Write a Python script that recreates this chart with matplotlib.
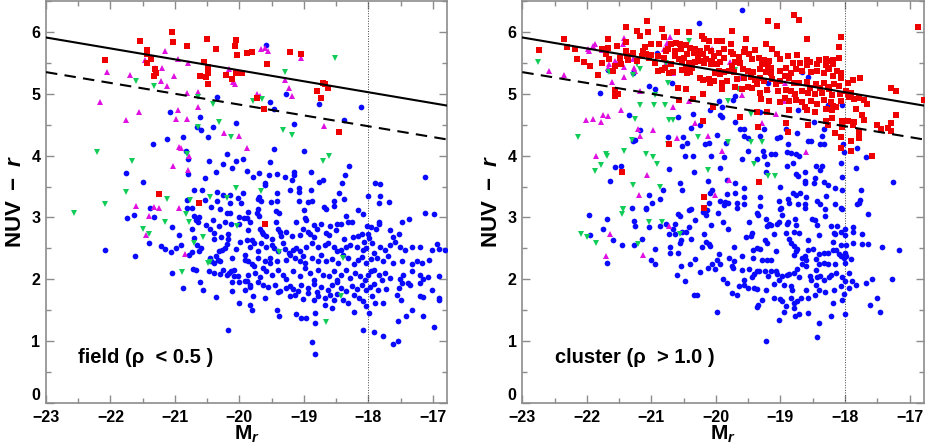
import numpy as np
import matplotlib
matplotlib.use("Agg")
import matplotlib.pyplot as plt
from matplotlib.ticker import MultipleLocator, FixedLocator

plt.rcParams['font.family'] = ['Liberation Sans', 'DejaVu Sans']
plt.rcParams['font.weight'] = 'bold'
plt.rcParams['mathtext.fontset'] = 'custom'
plt.rcParams['mathtext.rm'] = 'Liberation Sans:bold'
plt.rcParams['mathtext.it'] = 'Liberation Sans:bold:italic'
plt.rcParams['mathtext.bf'] = 'Liberation Sans:bold'

# ---------------- data: (M_r, NUV-r) ----------------
field_red = np.array([
    (-21.05,6.00),(-21.54,5.85),(-21.03,5.84),(-20.51,5.89),(-20.06,5.87),(-20.07,5.78),(-20.82,5.77),
    (-20.36,5.73),(-21.44,5.71),(-21.43,5.65),(-20.04,5.63),(-19.89,5.66),(-21.37,5.57),(-21.44,5.50),
    (-22.08,5.54),(-20.55,5.52),(-20.48,5.43),(-20.48,5.39),(-20.49,5.33),(-20.61,5.28),(-20.52,5.27),
    (-21.31,5.40),(-21.29,5.34),(-21.33,5.29),(-20.48,5.16),(-20.21,5.30),(-20.12,5.24),(-20.05,5.34),
    (-19.96,5.33),(-21.25,3.38),(-20.63,3.24),(-19.81,5.68),(-19.21,5.68),(-19.04,5.65),(-19.57,5.48),
    (-18.71,5.18),(-18.68,5.15),(-18.62,5.10),(-18.79,5.04),(-18.73,4.93),(-19.72,4.93),(-19.62,4.75),
    (-18.46,4.38),(-19.61,2.90)])

field_magenta = np.array([
    (-21.15,5.69),(-21.46,5.55),(-20.95,5.57),(-20.80,5.49),(-22.05,5.35),(-21.70,5.30),(-21.31,5.42),
    (-21.20,5.42),(-21.02,5.28),(-21.21,5.21),(-21.12,5.12),(-20.82,5.02),(-20.65,5.03),(-20.16,5.40),
    (-20.10,5.19),(-20.07,5.16),(-22.16,4.86),(-21.76,4.58),(-21.56,4.70),(-20.95,4.74),(-20.98,4.59),
    (-20.82,4.59),(-20.65,4.78),(-20.24,4.37),(-20.01,4.32),(-19.89,4.13),(-20.94,4.14),(-20.90,4.12),
    (-20.78,4.00),(-21.03,3.83),(-20.80,3.76),(-21.60,3.18),(-21.33,3.17),(-21.24,3.15),(-20.93,3.16),
    (-19.67,5.72),(-19.61,5.74),(-19.55,5.69),(-19.04,5.58),(-19.29,5.23),(-19.23,5.09),(-19.18,4.96),
    (-19.72,5.00),(-19.68,4.97),(-18.69,4.48),(-21.41,3.02),(-21.45,2.71),(-20.85,2.41)])

field_green = np.array([
    (-21.61,5.21),(-21.33,5.13),(-20.64,4.94),(-20.41,4.83),(-20.32,4.55),(-20.64,4.47),(-20.13,4.30),
    (-22.21,4.06),(-21.67,3.91),(-20.81,4.03),(-21.76,3.41),(-20.06,3.48),(-22.08,3.22),(-21.12,3.30),
    (-20.76,3.28),(-20.45,3.33),(-20.19,3.31),(-18.52,5.58),(-19.29,5.35),(-19.79,4.88),(-19.65,4.91),
    (-19.33,4.41),(-19.18,4.34),(-18.61,3.99),(-18.71,3.91),(-19.66,3.43),(-22.57,3.08),(-21.50,2.82),
    (-21.41,2.73),(-21.16,2.93),(-20.83,3.05),(-20.78,2.92),(-20.70,2.58),(-20.56,2.69),(-20.49,2.26),
    (-20.45,2.28),(-20.89,2.12),(-20.03,2.86),(-19.39,2.44),(-18.40,2.34),(-18.43,1.73),(-18.66,1.31)])

field_blue = np.array([
    (-20.35,4.95),(-21.08,4.70),(-20.61,4.63),(-20.66,4.47),(-20.60,4.42),(-20.41,4.46),(-20.06,4.53),
    (-20.49,4.30),(-20.87,4.30),(-21.13,4.27),(-21.34,4.19),(-20.83,4.08),(-20.80,3.95),(-20.19,4.03),
    (-20.47,3.91),(-20.25,3.87),(-20.06,3.92),(-19.95,3.95),(-20.12,3.80),(-20.36,3.74),(-20.80,3.71),
    (-21.76,3.72),(-21.50,3.57),(-20.54,3.64),(-20.71,3.45),(-20.58,3.44),(-20.35,3.41),(-20.25,3.37),
    (-20.15,3.37),(-19.95,3.39),(-20.02,3.31),(-20.35,3.26),(-20.15,3.24),(-19.98,3.23),(-20.54,3.29),
    (-20.82,3.28),(-21.38,3.15),(-20.82,3.15),(-20.73,3.15),(-20.44,3.17),(-20.30,3.13),
    (-19.58,5.79),(-19.27,5.00),(-19.53,4.87),(-19.46,4.76),(-18.76,4.83),(-18.11,4.78),(-18.37,4.57),
    (-19.15,4.51),(-19.46,4.11),(-19.00,4.08),(-19.52,3.90),(-18.30,3.83),(-19.88,3.75),(-19.69,3.72),
    (-19.79,3.65),(-19.54,3.68),(-19.41,3.71),(-19.29,3.66),(-19.15,3.74),(-19.15,3.68),(-18.89,3.73),
    (-18.36,3.68),(-19.18,3.60),(-18.70,3.61),(-18.76,3.58),(-19.60,3.56),(-19.61,3.53),(-18.41,3.55),
    (-19.08,3.48),(-19.22,3.45),(-19.08,3.41),(-18.89,3.45),(-19.42,3.40),(-18.45,3.39),(-17.89,3.56),
    (-17.82,3.54),(-17.12,3.66),(-19.69,3.33),(-19.71,3.30),(-19.67,3.27),(-19.51,3.25),(-19.41,3.26),
    (-19.07,3.27),(-18.87,3.27),(-18.53,3.26),(-18.37,3.30),(-18.01,3.34),(-17.82,3.35),(-17.84,3.24),
    (-17.68,3.25),(-19.71,3.13),(-19.00,3.12),(-18.69,3.17),(-18.65,3.14),(-18.54,3.18),(-18.16,3.12),
    (-21.74,2.99),(-21.63,3.04),(-22.09,2.48),(-21.62,2.38),(-21.32,3.00),(-21.40,2.58),(-21.05,2.84),
    (-21.22,2.54),(-21.15,2.49),(-21.06,2.44),(-20.99,2.50),(-20.93,2.72),(-20.91,2.55),(-21.04,2.10),
    (-20.88,1.86),(-20.71,3.02),(-20.74,2.81),(-20.70,2.67),(-20.66,2.56),(-20.74,2.44),(-20.78,2.40),
    (-20.63,2.45),(-20.59,2.50),(-20.67,2.96),(-20.62,3.01),(-20.64,2.92),(-20.72,2.17),(-20.68,2.15),
    (-20.61,1.95),(-20.57,1.82),(-20.52,2.88),(-20.46,2.82),(-20.41,2.96),(-20.40,2.75),(-20.39,2.65),
    (-20.28,2.69),(-20.31,2.86),(-20.22,2.93),(-20.20,3.07),(-20.14,3.08),(-20.13,2.90),(-20.00,3.00),
    (-19.93,2.99),(-20.00,2.89),(-20.18,2.74),(-20.18,2.65),(-20.20,2.57),(-20.22,2.50),(-20.27,2.48),
    (-20.32,2.45),(-20.36,2.37),(-20.46,2.34),(-20.44,2.29),(-20.39,2.26),(-20.33,2.32),(-20.30,2.29),
    (-20.47,2.13),(-20.40,2.10),(-20.30,2.09),(-20.26,2.15),(-20.16,2.11),(-20.13,2.13),(-20.08,2.15),
    (-20.12,2.35),(-20.06,2.49),(-19.99,2.61),(-19.92,2.40),(-19.92,2.32),(-20.20,2.07),(-20.08,2.05),
    (-20.02,2.06),(-20.12,1.95),(-20.01,1.95),(-19.92,1.97),(-20.12,1.81),(-19.92,1.82),(-20.37,1.71),
    (-20.01,1.62),(-20.17,1.18),
    (-19.86,3.09),(-19.73,3.07),(-18.93,3.25),(-18.08,3.06),(-19.43,3.10),(-19.38,3.08),(-19.88,2.99),
    (-19.84,2.93),(-19.70,3.02),(-19.44,2.92),(-19.12,2.92),(-18.98,2.99),(-18.97,2.96),(-18.85,2.88),
    (-18.74,2.89),(-18.59,2.86),(-18.49,2.89),(-18.43,2.89),(-18.35,3.02),(-18.31,2.93),(-18.26,2.93),
    (-18.02,2.86),(-17.84,2.92),(-17.83,2.89),(-17.48,2.92),(-17.37,2.97),(-17.12,3.07),(-16.98,3.05),
    (-17.96,2.84),
    (-19.86,2.80),(-19.68,2.82),(-19.64,2.73),(-19.59,2.70),(-19.50,2.65),(-19.40,2.81),(-19.37,2.77),
    (-19.35,2.70),(-19.27,2.77),(-19.18,2.70),(-19.06,2.72),(-19.01,2.82),(-18.93,2.77),(-18.91,2.73),
    (-18.80,2.82),(-18.65,2.75),(-18.61,2.71),(-18.50,2.80),(-18.38,2.65),(-18.24,2.68),(-18.16,2.70),
    (-18.10,2.73),(-18.07,2.61),(-18.00,2.74),(-17.99,2.66),(-17.88,2.81),(-17.66,2.80),(-17.61,2.69),
    (-17.53,2.74),(-16.93,2.57),(-19.65,2.76),
    (-19.89,2.64),(-19.81,2.63),(-19.78,2.58),(-19.84,2.53),(-19.71,2.45),(-19.67,2.58),(-19.58,2.53),
    (-19.50,2.56),(-19.47,2.50),(-19.40,2.45),(-19.33,2.58),(-19.29,2.49),(-19.23,2.42),(-19.17,2.48),
    (-19.12,2.50),(-19.06,2.45),(-18.96,2.53),(-18.88,2.58),(-18.85,2.68),(-18.78,2.53),(-18.67,2.56),
    (-18.62,2.58),(-18.54,2.53),(-18.49,2.45),(-18.42,2.48),(-18.34,2.53),(-18.29,2.56),(-18.18,2.53),
    (-18.08,2.48),(-18.03,2.50),(-17.95,2.58),(-17.92,2.42),(-17.82,2.53),(-17.74,2.48),(-17.66,2.56),
    (-17.59,2.61),(-17.51,2.53),(-17.43,2.48),(-17.33,2.53),(-17.20,2.53),(-16.90,2.49),(-16.81,2.47),
    (-17.02,2.48),
    (-19.87,2.29),(-19.81,2.24),(-19.71,2.34),(-19.61,2.29),(-19.53,2.34),(-19.42,2.29),(-19.28,2.32),
    (-19.22,2.40),(-19.14,2.34),(-19.06,2.29),(-19.01,2.37),(-18.98,2.26),(-18.88,2.34),(-18.78,2.29),
    (-18.73,2.40),(-18.65,2.29),(-18.56,2.33),(-18.47,2.26),(-18.39,2.40),(-18.31,2.34),(-18.23,2.24),
    (-18.16,2.32),(-18.10,2.36),(-18.03,2.26),(-17.96,2.33),(-17.87,2.34),(-17.77,2.29),(-17.69,2.37),
    (-17.61,2.26),(-17.48,2.29),(-17.33,2.24),(-17.24,2.30),(-17.17,2.26),(-17.06,2.32),(-19.78,2.21),
    (-19.64,2.18),(-19.52,2.26),
    (-19.86,2.07),(-19.76,2.10),(-19.68,2.04),(-19.59,2.13),(-19.50,2.07),(-19.40,2.15),(-19.32,2.07),
    (-19.27,2.00),(-19.17,2.13),(-19.06,2.05),(-18.98,2.18),(-18.91,2.10),(-18.85,1.99),(-18.78,2.15),
    (-18.70,2.07),(-18.61,2.05),(-18.54,2.13),(-18.49,1.99),(-18.43,2.07),(-18.34,2.15),(-18.29,2.02),
    (-18.21,2.10),(-18.13,2.05),(-18.05,1.99),(-18.00,2.07),(-17.96,2.13),(-17.91,2.15),(-17.83,2.07),
    (-17.79,1.99),(-17.74,2.10),(-17.66,2.02),(-17.51,2.00),(-17.46,2.07),(-17.38,1.94),(-17.32,2.13),
    (-17.20,2.07),(-17.15,2.01),(-17.07,2.03),(-16.90,2.06),(-19.88,1.97),(-19.71,1.95),
    (-19.84,1.91),(-19.63,1.90),(-19.55,1.88),(-19.45,1.91),(-19.37,1.81),(-19.27,1.86),(-19.22,1.89),
    (-19.17,1.84),(-19.09,1.81),(-19.04,1.90),(-18.93,1.86),(-18.85,1.93),(-18.80,1.79),(-18.73,1.88),
    (-18.62,1.83),(-18.57,1.91),(-18.49,1.95),(-18.42,1.86),(-18.34,1.81),(-18.26,1.89),(-18.18,1.84),
    (-18.10,1.91),(-18.04,1.83),(-17.98,1.88),(-17.92,1.93),(-17.85,1.83),(-17.72,1.84),(-17.52,1.86),
    (-17.48,1.94),(-17.35,1.91),(-17.20,1.94),(-17.02,1.82),(-19.83,1.88),
    (-19.79,1.73),(-19.61,1.70),(-19.40,1.79),(-19.22,1.73),(-19.14,1.75),(-19.01,1.68),(-18.93,1.78),
    (-18.85,1.67),(-18.78,1.73),(-18.67,1.70),(-18.60,1.75),(-18.53,1.67),(-18.49,1.77),(-18.39,1.67),
    (-18.31,1.62),(-18.23,1.75),(-18.14,1.70),(-18.08,1.65),(-18.04,1.57),(-17.95,1.73),(-17.90,1.61),
    (-17.77,1.61),(-17.55,1.74),(-17.50,1.66),(-17.33,1.51),(-17.20,1.73),(-17.16,1.72),(-16.91,1.70),
    (-16.90,1.66),(-19.83,1.58),(-19.81,1.50),
    (-19.41,1.51),(-19.39,1.40),(-19.12,1.44),(-19.04,1.38),(-18.96,1.38),(-18.83,1.45),(-18.83,1.29),
    (-18.67,1.58),(-18.57,1.54),(-18.23,1.47),(-17.99,1.46),(-17.41,1.40),(-17.15,1.41),(-18.09,1.18),
    (-17.91,1.15),(-17.78,1.08),(-17.61,0.96),(-17.54,1.00),(-17.54,1.33),(-16.98,1.23),(-18.87,0.99),
    (-18.83,0.79)])

cluster_red = np.array([
    (-21.07,6.17),(-21.40,6.08),(-21.23,6.01),(-21.05,6.00),(-20.84,6.04),(-20.60,6.00),(-20.41,6.00),
    (-20.21,5.94),(-20.19,5.88),(-20.11,5.85),(-19.99,5.86),(-19.91,5.86),(-22.35,5.88),(-22.31,5.76),
    (-22.19,5.73),(-22.74,5.70),(-22.15,5.57),(-22.04,5.52),(-21.95,5.45),(-21.83,5.31),(-21.67,5.88),
    (-21.67,5.74),(-21.77,5.72),(-21.70,5.64),(-21.76,5.49),(-21.65,5.56),(-21.57,5.45),(-21.60,5.37),
    (-21.54,5.78),(-21.48,5.58),(-21.39,5.83),(-21.39,5.69),(-21.38,5.61),(-21.47,5.48),(-21.36,5.54),
    (-21.28,5.66),(-21.22,5.53),(-21.17,5.94),(-21.13,5.69),(-21.10,5.76),(-21.09,5.64),(-21.15,5.61),
    (-21.04,5.58),(-21.00,5.81),(-21.00,5.63),(-20.95,5.49),(-20.88,5.80),(-20.89,5.61),(-20.81,5.91),
    (-20.78,5.69),(-20.74,5.72),(-20.70,5.80),(-20.81,5.58),(-20.69,5.48),(-20.63,5.61),(-20.62,5.82),
    (-20.63,5.69),(-20.55,5.80),(-20.54,5.72),(-20.57,5.56),(-20.53,5.51),(-20.46,5.79),(-20.45,5.64),
    (-20.40,5.74),(-20.34,5.66),(-20.32,5.72),(-20.24,5.69),(-20.27,5.61),(-20.20,5.64),(-20.14,5.74),
    (-20.07,5.69),(-20.03,5.61),(-19.95,5.66),(-19.88,5.72),(-19.88,5.58),(-19.93,5.51),(-20.50,5.58),
    (-20.42,5.50),(-20.32,5.51),(-20.24,5.53),(-20.19,5.49),(-20.15,5.56),(-20.08,5.48),(-20.06,5.53),
    (-19.99,5.48),(-20.47,5.42),(-20.37,5.41),(-20.40,5.36),(-20.45,5.34),(-20.52,5.38),(-20.89,5.37),
    (-20.83,5.39),(-20.79,5.41),(-20.73,5.33),(-20.67,5.35),(-20.24,5.26),(-20.20,5.22),(-20.11,5.24),
    (-20.09,5.18),(-20.03,5.21),(-20.01,5.34),(-19.95,5.37),(-19.94,5.32),(-19.88,5.36),(-19.91,5.17),
    (-19.90,5.08),(-20.20,5.00),(-20.58,5.09),(-20.47,5.07),(-21.56,5.06),(-21.52,5.00),(-21.57,4.97),
    (-20.57,4.90),(-20.36,4.92),(-20.05,4.79),(-20.20,4.56),(-20.73,4.19),(-21.46,3.74),(-20.18,3.33),
    (-20.19,3.15),
    (-18.79,6.27),(-18.71,6.19),(-19.19,6.18),(-19.06,6.09),(-16.87,6.08),(-19.75,6.01),(-19.53,5.88),
    (-19.77,5.81),(-19.23,5.80),(-18.59,5.88),(-18.06,5.92),(-18.10,5.75),(-19.55,5.73),(-19.40,5.70),
    (-19.13,5.73),(-19.76,5.68),(-19.73,5.64),(-19.64,5.59),(-19.56,5.68),(-19.49,5.64),(-19.44,5.57),
    (-19.33,5.58),(-19.26,5.54),(-19.18,5.53),(-19.06,5.64),(-19.00,5.57),(-18.89,5.61),(-18.75,5.62),
    (-18.81,5.50),(-18.70,5.49),(-18.59,5.54),(-18.54,5.51),(-18.40,5.54),(-18.30,5.56),(-18.25,5.53),
    (-18.18,5.54),(-18.09,5.58),(-18.59,5.46),(-18.43,5.48),(-18.30,5.46),(-18.26,5.42),(-18.18,5.48),
    (-19.70,5.52),(-19.62,5.50),(-19.75,5.45),(-19.80,5.37),(-19.72,5.35),(-19.58,5.40),(-19.51,5.37),
    (-19.42,5.36),(-19.32,5.40),(-19.28,5.48),(-19.20,5.45),(-19.14,5.42),(-19.15,5.34),(-19.23,5.36),
    (-19.00,5.37),(-18.92,5.42),(-18.84,5.34),(-18.76,5.40),(-18.66,5.37),(-18.53,5.36),(-18.43,5.37),
    (-18.32,5.34),(-18.25,5.40),(-18.18,5.29),(-18.12,5.37),(-18.06,5.26),(-18.06,5.33),(-19.83,5.21),
    (-19.67,5.24),(-19.57,5.25),(-19.46,5.27),(-19.39,5.22),(-19.31,5.26),(-19.26,5.21),(-19.13,5.24),
    (-19.07,5.16),(-19.00,5.21),(-18.93,5.29),(-18.87,5.26),(-18.79,5.18),(-18.71,5.17),(-18.59,5.19),
    (-18.54,5.09),(-18.45,5.16),(-18.38,5.09),(-18.32,5.18),(-18.26,5.11),(-18.17,5.16),(-18.09,5.13),
    (-17.96,5.18),(-17.88,5.22),(-17.77,5.26),(-19.71,5.11),(-19.59,5.07),(-19.51,5.11),(-19.44,5.09),
    (-19.36,5.16),(-19.31,5.02),(-19.21,5.06),(-19.04,5.05),(-18.92,5.06),(-18.84,5.05),(-18.77,5.00),
    (-18.66,5.05),(-18.57,5.02),(-18.47,5.00),(-18.35,5.02),(-18.25,5.07),(-18.20,4.98),(-18.08,5.00),
    (-17.99,5.05),(-17.96,5.00),(-17.90,5.02),(-17.29,5.09),(-17.21,5.05),(-16.78,4.90),(-19.30,4.91),
    (-19.18,4.89),(-19.00,4.86),(-18.93,4.93),(-18.87,4.89),(-18.76,4.90),(-18.66,4.86),(-18.53,4.89),
    (-18.43,4.83),(-18.32,4.90),(-18.22,4.86),(-18.18,4.81),(-18.06,4.89),(-17.94,4.94),(-17.86,4.91),
    (-17.78,4.93),(-17.71,4.90),(-17.66,4.83),(-17.83,4.75),(-19.62,4.63),(-19.36,4.70),(-19.21,4.71),
    (-18.87,4.74),(-18.62,4.79),(-18.59,4.73),(-18.47,4.70),(-18.30,4.75),(-18.20,4.73),(-18.14,4.79),
    (-18.20,4.61),(-18.30,4.56),(-18.27,4.50),(-18.57,4.50),(-18.91,4.52),(-19.35,4.47),(-18.88,4.38),
    (-18.15,4.36),(-18.04,4.56),(-18.04,4.47),(-17.95,4.56),(-17.88,4.50),(-17.86,4.54),(-17.74,4.65),
    (-17.70,4.58),(-17.51,4.50),(-17.44,4.43),(-17.34,4.45),(-17.29,4.39),(-17.29,4.53),(-17.21,4.66),
    (-17.78,4.38),(-17.78,4.28),(-18.06,4.30),(-17.90,4.23),(-18.06,4.12),(-17.91,4.07),(-17.58,4.00),
    (-19.33,3.57)])

cluster_magenta = np.array([
    (-21.42,5.90),(-21.88,5.81),(-21.90,5.77),(-21.98,5.73),(-21.96,5.69),(-21.77,5.70),(-21.54,5.49),
    (-21.66,5.48),(-21.67,5.42),(-21.43,5.43),(-21.44,5.80),(-21.56,5.53),(-21.28,5.57),(-21.27,5.42),
    (-21.26,5.37),(-21.42,5.27),(-21.61,5.19),(-21.18,5.05),(-20.95,5.50),(-20.78,5.50),(-20.76,5.82),
    (-20.71,5.91),(-20.81,5.72),(-20.67,5.34),(-20.42,4.89),(-20.67,4.78),(-20.06,5.72),(-22.59,5.37),
    (-22.36,5.31),(-22.02,4.57),(-21.90,4.60),(-21.75,4.66),(-21.67,4.64),(-21.78,4.54),(-21.47,4.74),
    (-21.21,4.43),(-21.18,4.32),(-20.97,4.41),(-20.61,4.29),(-20.32,4.53),(-20.12,4.31),(-19.90,4.07),
    (-21.86,3.99),(-21.06,3.69),(-21.19,3.37),(-20.01,3.36),
    (-19.78,5.52),(-19.61,5.25),(-19.62,5.09),(-19.59,4.98),(-19.20,5.08),(-18.93,5.18),(-18.79,5.00),
    (-18.94,4.89),(-19.07,4.68),(-19.29,4.52),(-18.18,5.29),(-18.60,4.06),(-19.80,3.60),
    (-21.64,2.73),(-21.70,2.38),(-21.13,2.39),(-20.73,2.87)])

cluster_green = np.array([
    (-22.76,5.52),(-22.13,4.30),(-21.66,5.35),(-21.29,5.31),(-21.22,5.48),(-21.17,5.40),(-20.78,5.50),
    (-20.42,5.86),(-20.52,5.37),(-20.75,5.18),(-20.95,4.98),(-21.17,4.82),(-20.96,4.82),(-20.79,4.82),
    (-21.25,4.59),(-20.73,4.57),(-20.66,4.57),(-21.30,4.25),(-21.71,4.03),(-21.69,3.99),(-21.42,4.07),
    (-21.09,4.02),(-20.97,3.98),(-20.92,3.86),(-21.78,3.85),(-21.88,3.75),(-20.74,4.18),(-20.28,4.30),
    (-20.13,3.77),(-21.29,3.52),(-20.87,3.50),(-21.44,3.13),
    (-19.71,5.39),(-19.65,5.07),(-19.81,4.89),(-19.46,4.67),(-19.45,4.22),(-19.29,4.22),(-19.41,3.87),
    (-19.19,3.67),(-19.08,3.67),(-19.81,4.22),
    (-22.09,2.74),(-22.00,2.68),(-21.86,2.58),(-21.44,3.13),(-21.45,3.06),(-21.21,2.57),(-21.03,2.93),
    (-20.83,2.92),(-20.56,2.74)])

cluster_blue = np.array([
    (-20.26,6.14),(-20.91,5.66),(-21.67,5.38),(-21.28,5.34),(-21.79,5.01),(-21.03,5.13),(-20.94,5.08),
    (-20.68,5.17),(-19.95,4.89),(-19.91,4.79),(-20.09,4.73),(-20.36,4.68),(-19.94,4.65),(-19.91,4.62),
    (-20.59,4.62),(-21.35,4.65),(-20.38,4.45),(-20.24,4.49),(-21.17,4.42),(-21.25,4.25),(-21.28,4.23),
    (-20.74,4.30),(-20.51,4.30),(-20.45,4.20),(-20.53,4.15),(-20.17,4.18),(-20.11,4.21),(-19.99,4.33),
    (-19.84,4.21),(-20.48,4.00),(-20.36,4.00),(-20.08,4.00),(-19.88,3.98),(-21.47,3.84),(-21.57,3.81),
    (-20.72,3.79),(-20.34,3.74),(-19.93,3.80),(-21.64,3.59),(-20.13,3.59),(-19.83,3.61),(-20.56,3.56),
    (-20.82,3.45),(-20.53,3.44),(-20.09,3.40),(-20.06,3.45),(-21.03,3.36),(-20.86,3.30),(-20.99,3.24),
    (-20.11,3.23),(-19.94,3.27),(-19.86,3.25),(-21.08,3.15),(-20.39,3.13),
    (-19.60,6.35),(-18.66,5.35),(-18.58,5.27),(-19.19,5.17),(-19.73,4.90),(-19.71,4.97),(-19.31,4.71),
    (-18.73,4.74),(-18.27,4.82),(-18.04,4.82),(-19.71,4.54),(-18.48,4.54),(-19.62,4.43),(-19.56,4.43),
    (-19.25,4.43),(-18.91,4.43),(-18.75,4.36),(-18.32,4.43),(-19.57,4.32),(-19.50,4.28),(-19.32,4.32),
    (-19.06,4.29),(-19.01,4.30),(-18.58,4.23),(-18.53,4.23),(-18.35,4.32),(-18.39,4.19),(-18.33,4.18),
    (-18.89,4.18),(-18.03,4.19),(-17.82,4.12),(-19.51,4.07),(-19.27,4.07),(-19.15,4.02),(-19.26,3.99),
    (-19.08,4.02),(-18.90,4.06),(-18.83,4.04),(-18.76,4.03),(-18.71,4.00),(-18.01,4.06),(-19.59,3.95),
    (-19.37,3.95),(-19.21,3.87),(-18.90,3.83),(-18.80,3.88),(-18.45,3.83),(-18.35,3.84),(-18.06,3.88),
    (-17.83,3.80),(-17.68,3.98),(-19.23,3.74),(-18.76,3.70),(-18.73,3.67),(-18.62,3.74),(-18.39,3.76),
    (-18.47,3.64),(-18.04,3.65),(-17.25,3.57),(-19.71,3.55),(-19.01,3.49),(-18.62,3.59),(-18.62,3.56),
    (-18.33,3.57),(-18.27,3.53),(-18.48,3.55),(-18.16,3.47),(-18.05,3.45),(-17.75,3.45),(-19.56,3.48),
    (-19.83,3.38),(-19.71,3.39),(-19.56,3.33),(-19.32,3.33),(-18.81,3.39),(-18.76,3.36),(-18.69,3.39),
    (-18.60,3.33),(-18.29,3.35),(-18.88,3.30),(-18.87,3.24),(-19.02,3.27),(-18.73,3.21),(-18.62,3.22),
    (-18.43,3.27),(-18.39,3.21),(-18.16,3.22),(-17.82,3.22),(-17.79,3.24),(-17.76,3.28),(-19.81,3.24),
    (-19.68,3.24),(-19.56,3.22),(-19.31,3.18),(-18.99,3.15),(-18.62,3.15),(-18.06,3.15),(-19.68,3.15),
    (-21.96,3.04),(-21.69,2.97),(-21.75,2.82),(-21.95,2.71),(-21.60,2.64),(-21.46,2.55),(-21.69,2.26),
    (-21.30,3.16),(-21.27,2.95),(-21.26,2.86),(-21.27,2.56),(-21.15,2.65),(-21.08,3.13),(-21.04,2.84),
    (-20.95,2.49),(-21.01,2.32),(-20.95,2.25),(-20.86,2.87),(-20.78,2.89),(-20.73,2.74),(-20.71,2.53),
    (-20.71,2.43),(-20.67,2.81),(-20.64,2.89),(-20.64,2.74),(-20.59,2.42),(-20.58,3.05),(-20.56,3.02),
    (-20.56,2.59),(-20.54,2.64),(-20.52,2.76),(-20.47,2.76),(-20.60,2.07),(-20.54,2.21),(-20.48,1.97),
    (-20.42,2.85),(-20.41,3.12),(-20.38,2.65),(-20.33,2.33),(-20.32,2.96),(-20.40,2.25),(-20.25,2.12),
    (-20.22,2.53),(-20.20,3.09),(-20.19,2.73),(-20.15,2.60),(-20.15,3.04),(-20.14,3.12),(-20.11,2.57),
    (-20.09,2.54),(-20.07,2.88),(-20.06,2.25),(-20.12,2.18),(-20.01,2.17),(-19.98,2.32),(-19.95,2.41),
    (-19.94,2.24),(-19.96,3.07),(-19.88,3.20),(-19.89,2.00),(-19.89,2.93),(-20.34,1.74),(-20.29,1.75),
    (-19.99,1.47),
    (-19.36,3.07),(-19.34,3.04),(-19.00,3.13),(-18.98,3.04),(-18.31,3.13),(-18.31,3.02),(-18.04,3.13),
    (-17.65,3.05),(-19.81,2.81),(-19.49,2.92),(-19.23,2.97),(-19.21,2.86),(-19.18,2.90),(-19.15,2.88),
    (-19.06,2.89),(-19.02,2.92),(-18.90,2.89),(-18.88,2.92),(-18.77,2.97),(-18.76,2.88),(-18.71,2.75),
    (-18.92,2.75),(-19.10,2.73),(-19.44,2.75),(-19.45,2.70),(-19.54,2.68),(-18.87,2.65),(-18.79,2.77),
    (-18.57,2.64),(-18.51,2.97),(-18.47,2.96),(-18.43,2.88),(-18.40,2.72),(-18.17,2.75),(-18.21,2.86),
    (-18.16,2.73),(-18.12,2.86),(-18.06,2.77),(-18.00,2.81),(-18.00,2.72),(-17.88,2.84),(-17.88,2.77),
    (-17.73,2.74),(-19.24,2.63),(-19.21,2.58),(-18.83,2.58),(-18.79,2.54),(-18.18,2.60),(-18.06,2.55),
    (-17.99,2.56),(-17.88,2.59),(-17.74,2.57),(-17.64,2.57),(-17.43,2.53),(-17.17,2.47),(-19.72,2.53),
    (-19.42,2.48),(-19.37,2.50),(-19.31,2.49),(-19.07,2.45),(-18.76,2.45),(-18.74,2.49),(-18.58,2.48),
    (-18.49,2.49),(-18.40,2.41),(-18.32,2.42),(-18.27,2.43),(-18.18,2.47),(-18.14,2.48),(-18.09,2.41),
    (-18.06,2.37),(-18.02,2.34),(-18.00,2.42),(-17.98,2.37),(-19.80,2.34),(-19.72,2.29),(-19.59,2.38),
    (-19.42,2.34),(-19.28,2.32),(-19.21,2.32),(-19.15,2.32),(-18.79,2.40),(-18.66,2.34),(-18.62,2.38),
    (-18.60,2.32),(-18.45,2.33),(-18.41,2.25),(-18.33,2.26),(-18.27,2.25),(-18.16,2.25),(-18.00,2.27),
    (-17.90,2.33),(-19.75,2.22),(-19.73,2.18),(-19.59,2.15),(-19.49,2.17),(-19.44,2.04),(-19.57,1.99),
    (-19.41,2.09),(-19.37,2.14),(-19.33,2.13),(-19.24,2.14),(-19.20,2.06),(-19.15,2.14),(-19.07,2.13),
    (-19.05,2.09),(-18.98,2.05),(-18.90,2.07),(-18.87,2.09),(-18.79,2.11),(-18.75,2.17),(-18.71,2.04),
    (-18.66,2.24),(-18.60,2.21),(-18.54,2.06),(-18.53,1.99),(-18.45,2.15),(-18.43,2.04),(-18.38,2.06),
    (-18.32,1.99),(-18.25,2.04),(-18.22,2.07),(-18.14,2.11),(-18.04,2.04),(-17.94,2.11),(-17.89,1.97),
    (-18.00,1.97),(-18.06,1.89),(-17.83,1.90),(-17.94,1.86),(-19.83,1.94),(-19.75,1.78),(-19.68,1.75),
    (-19.64,1.89),(-19.57,1.90),(-19.51,1.86),(-19.41,1.86),(-19.37,1.84),(-19.23,1.83),(-19.10,1.93),
    (-19.02,1.99),(-18.95,1.90),(-18.84,1.89),(-18.82,1.82),(-18.61,1.82),(-18.45,1.90),(-18.40,1.83),
    (-18.31,1.79),(-18.17,1.83),(-18.02,1.77),(-17.67,1.94),(-17.58,2.00),(-17.27,2.00),(-19.28,1.66),
    (-19.35,1.58),(-19.37,1.55),(-19.10,1.70),(-19.01,1.68),(-18.97,1.65),(-18.92,1.57),(-18.95,1.47),
    (-19.02,1.35),(-18.84,1.69),(-18.79,1.61),(-18.75,1.65),(-18.79,1.54),(-18.72,1.44),(-18.77,1.41),
    (-18.68,1.70),(-18.57,1.70),(-18.58,1.46),(-18.46,1.75),(-18.18,1.61),(-18.21,1.40),(-18.04,1.67),
    (-18.00,1.44),(-17.51,1.70),(-17.61,1.58),(-17.46,1.47),(-18.40,1.29),(-18.44,1.06),(-19.23,1.01)])

# red-sequence reference lines: value at M_r = -23 and slope
line_x = [-23.0, -16.7]
solid_at_m23, solid_slope = 5.91, -0.177
dashed_at_m23, dashed_slope = 5.35, -0.175
divide_mr = -18.0
x_ticks = [-23, -22, -21, -20, -19, -18, -17]
y_ticks = [0, 1, 2, 3, 4, 5, 6]

panels = [("field", field_blue, field_magenta, field_green, field_red, "field (ρ  < 0.5 )"),
          ("cluster", cluster_blue, cluster_magenta, cluster_green, cluster_red, "cluster (ρ  > 1.0 )")]

fig = plt.figure(figsize=(9.26, 4.45), dpi=100)
axes_rects = [[46/926, 1-403/445, 401/926, 402/445],
              [522.3/926, 1-403/445, 401.4/926, 402/445]]

blue_c, red_c, mag_c, green_c = '#0a0aff', '#ee0000', '#e010e0', '#12cc58'
spine_c = '#8c8c8c'

for rect, (name, blue, mag, green, red, label) in zip(axes_rects, panels):
    ax = fig.add_axes(rect)
    ax.plot(blue[:, 0], blue[:, 1], 'o', ms=4.1, mew=0, color=blue_c, zorder=3)
    ax.plot(mag[:, 0], mag[:, 1], '^', ms=4.6, mew=0, color=mag_c, zorder=3)
    ax.plot(green[:, 0], green[:, 1], 'v', ms=4.6, mew=0, color=green_c, zorder=3)
    ax.plot(red[:, 0], red[:, 1], 's', ms=3.9, mew=0, color=red_c, zorder=4)

    lx = np.array(line_x)
    ax.plot(lx, solid_at_m23 + solid_slope * (lx + 23), '-', color='black', lw=1.5, zorder=5)
    ax.plot(lx, dashed_at_m23 + dashed_slope * (lx + 23), color='black', lw=1.5,
            dashes=(5.5, 3.5), zorder=5)
    ax.axvline(divide_mr, color='#444444', lw=0.7, ls=(0, (1, 1.6)), zorder=2)

    ax.set_xlim(-23.0, -16.78)
    ax.set_ylim(0, 6.5)
    ax.xaxis.set_major_locator(FixedLocator(x_ticks))
    ax.xaxis.set_minor_locator(MultipleLocator(0.5))
    ax.yaxis.set_major_locator(FixedLocator(y_ticks))
    ax.yaxis.set_minor_locator(MultipleLocator(0.5))
    ax.tick_params(which='both', direction='in', top=True, right=True, color=spine_c, width=1.0)
    ax.tick_params(which='major', length=6, labelsize=11.5)
    ax.tick_params(axis='x', which='major', pad=5)
    ax.tick_params(axis='y', which='major', pad=4)
    ax.tick_params(which='minor', length=3.5)
    for lab in ax.get_xticklabels() + ax.get_yticklabels():
        lab.set_fontweight('bold')
    # lift the "0" label a little so it clears the x tick label below it
    ax.yaxis.get_major_ticks()[0].label1.set_verticalalignment('bottom')
    for s in ax.spines.values():
        s.set_color(spine_c)
        s.set_linewidth(1.2)

    ax.set_xlabel(r'$\mathrm{M}_{\mathit{r}}$', fontsize=15, labelpad=-1)
    ax.set_ylabel(r'$\mathrm{NUV}\ -\ \mathit{r}$', fontsize=16, labelpad=4)
    ax.text(-22.5, 0.74, label, fontsize=14.5, fontweight='bold', ha='left', va='center')

fig.savefig('out.png', dpi=100)
